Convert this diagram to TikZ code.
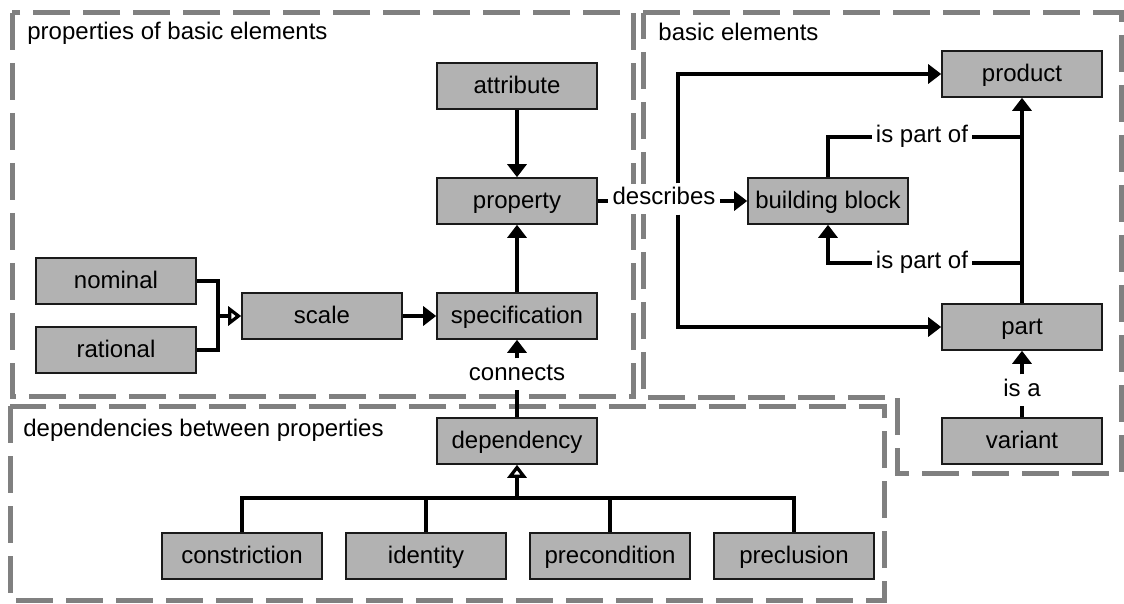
\documentclass[tikz,border=0pt]{standalone}
\usepackage{fontspec}
\setmainfont{Liberation Sans}
\usepackage{xcolor}
\usepackage{tikz}
\usetikzlibrary{arrows.meta}
\definecolor{elemGrey}{HTML}{B2B2B2}
\definecolor{elemLine}{HTML}{1A1A1A}
\definecolor{frameGrey}{HTML}{808080}
\tikzset{
  elembox/.style={rectangle, draw=elemLine, fill=elemGrey, line width=0.8pt, align=center, font=\fontsize{12}{14}\selectfont, minimum width=80pt, minimum height=23pt, text height=8.6pt, text depth=1.2pt, inner sep=2pt},
  framebox/.style={draw=frameGrey, line width=2.5pt, dash pattern=on 18.5pt off 6.5pt},
  frametitle/.style={font=\fontsize{12}{14}\selectfont, anchor=west, inner sep=0pt},
  rellabel/.style={font=\fontsize{12}{14}\selectfont, fill=white, text height=8.6pt, text depth=2.6pt, inner sep=2pt},
  relline/.style={line width=2pt, draw=black},
  relarrow/.style={relline, -{Triangle[length=6.5pt,width=9.5pt]}},
  genarrow/.style={relline, -{Triangle[open,fill=white,length=6.5pt,width=9.5pt]}},
}

\begin{document}
\begin{tikzpicture}[x=0.5pt,y=-0.5pt]
  \useasboundingbox (0,0) rectangle (1124,604);

  % Frames
  \draw[framebox] (12,13) rectangle (633,396);
  \draw[framebox] (643,13) -- (1121,13) -- (1121,473) -- (897,473) -- (897,397) -- (643,397) -- cycle;
  \draw[framebox] (10,406) rectangle (884,600);
  \node[frametitle] (t_props) at (27,33) {properties of basic elements};
  \node[frametitle] (t_basic) at (658,32) {basic elements};
  \node[frametitle] (t_deps) at (23,430) {dependencies between properties};

  % Properties of basic elements
  \node[elembox] (attribute) at (517,86) {attribute};
  \node[elembox] (property) at (517,201) {property};
  \node[elembox] (spec) at (517,316) {specification};
  \node[elembox] (scale) at (322,316) {scale};
  \node[elembox] (nominal) at (116,281) {nominal};
  \node[elembox] (rational) at (116,350) {rational};

  % Basic elements
  \node[elembox] (product) at (1022,74) {product};
  \node[elembox] (bblock) at (828,201) {building block};
  \node[elembox] (part) at (1022,327) {part};
  \node[elembox] (variant) at (1022,441) {variant};

  % Dependencies between properties
  \node[elembox] (dependency) at (517,441) {dependency};
  \node[elembox] (constriction) at (242,556) {constriction};
  \node[elembox] (identity) at (426,556) {identity};
  \node[elembox] (precondition) at (610,556) {precondition};
  \node[elembox] (preclusion) at (794,556) {preclusion};

  % Relation labels
  \node[rellabel] (desc) at (664,199) {describes};
  \node[rellabel] (conn) at (517,374) {connects};
  \node[rellabel] (ipo_up) at (922,137) {is part of};
  \node[rellabel] (ipo_low) at (922,263) {is part of};
  \node[rellabel] (isa) at (1022,390) {is a};
  \coordinate (split) at (678,201);
  \coordinate (sjoin) at (218,316);
  \coordinate (gbar) at (517,498);

  % Connections
  \draw[relarrow] (attribute) -- (property);
  \draw[relarrow] (spec) -- (property);
  \draw[relarrow] (scale) -- (spec);
  \draw[relline] (nominal) -| (sjoin);
  \draw[relline] (rational) -| (sjoin);
  \draw[genarrow] (sjoin) -- (scale);
  \draw[relline] (dependency) -- (conn);
  \draw[relarrow] (conn) -- (spec);
  \draw[relline] (constriction.north) |- (gbar) -| (preclusion.north);
  \draw[relline] (identity.north) -- (identity.north |- gbar);
  \draw[relline] (precondition.north) -- (precondition.north |- gbar);
  \draw[genarrow] (gbar) -- (dependency.south);

  \draw[relline] (property.east) -- (property.east -| desc.west);
  \draw[relarrow] (desc.east |- bblock) -- (bblock);
  \draw[relarrow] (split |- desc.north) |- (product);
  \draw[relarrow] (split |- desc.south) |- (part);
  \draw[relarrow] (part) -- (product);
  \draw[relline] (bblock.north) |- (ipo_up);
  \draw[relline] (ipo_up) -- (ipo_up -| part.north);
  \draw[relline] (ipo_low -| part.north) -- (ipo_low);
  \draw[relarrow] (ipo_low) -| (bblock.south);
  \draw[relline] (variant) -- (isa);
  \draw[relarrow] (isa) -- (part);
\end{tikzpicture}
\end{document}
